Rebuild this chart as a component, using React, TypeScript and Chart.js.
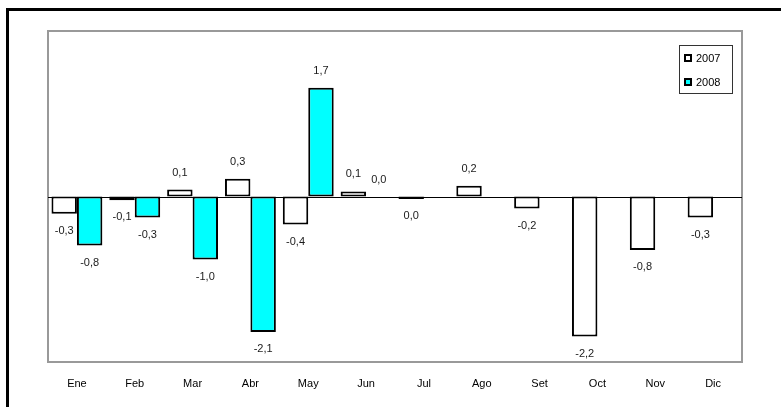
import React, { useEffect, useRef } from "react";
import { Chart, registerables } from "chart.js";

Chart.register(...registerables);

const categories = ["Ene", "Feb", "Mar", "Abr", "May", "Jun", "Jul", "Ago", "Set", "Oct", "Nov", "Dic"];
const values2007 = [-0.27, -0.06, 0.11, 0.28, -0.44, 0.08, -0.04, 0.17, -0.19, -2.2, -0.84, -0.33];
const values2008: (number | null)[] = [-0.77, -0.33, -0.99, -2.13, 1.71, 0.0, null, null, null, null, null, null];
const seriesNames = ["2007", "2008"];
const seriesColors = ["#FFFFFF", "#00FFFF"];
const yMin = -2.6;
const yMax = 2.6;

const FONT = "Arial, 'Liberation Sans', sans-serif";

function fmt(v: number): string {
  const r = Math.abs(v) < 0.05 ? 0 : v;
  return r.toFixed(1).replace(".", ",");
}

const framePlugin = {
  id: "frame",
  beforeDraw(chart: any) {
    const ctx = chart.ctx;
    ctx.save();
    ctx.fillStyle = "#FFFFFF";
    ctx.fillRect(0, 0, chart.width, chart.height);
    ctx.strokeStyle = "#000000";
    ctx.lineWidth = 3;
    ctx.beginPath();
    ctx.moveTo(7.5, chart.height + 10);
    ctx.lineTo(7.5, 9.5);
    ctx.lineTo(chart.width + 10, 9.5);
    ctx.stroke();
    ctx.restore();
  },
  beforeDatasetsDraw(chart: any) {
    const ctx = chart.ctx;
    const a = chart.chartArea;
    ctx.save();
    ctx.strokeStyle = "#999999";
    ctx.lineWidth = 2;
    ctx.strokeRect(a.left, a.top, a.right - a.left, a.bottom - a.top);
    const y0 = Math.round(chart.scales.y.getPixelForValue(0)) + 0.5;
    ctx.strokeStyle = "#000000";
    ctx.lineWidth = 1;
    ctx.beginPath();
    ctx.moveTo(a.left, y0);
    ctx.lineTo(a.right, y0);
    ctx.stroke();
    ctx.restore();
  },
  afterDatasetsDraw(chart: any) {
    const ctx = chart.ctx;
    ctx.save();
    ctx.font = `11px ${FONT}`;
    ctx.fillStyle = "#1a1a1a";
    ctx.textAlign = "center";
    ctx.textBaseline = "middle";
    chart.data.datasets.forEach((ds: any, di: number) => {
      const meta = chart.getDatasetMeta(di);
      meta.data.forEach((bar: any, i: number) => {
        const v = ds.data[i];
        if (v === null || v === undefined) return;
        const props = bar.getProps(["x", "y", "base"], true);
        const top = Math.min(props.y, props.base);
        const bottom = Math.max(props.y, props.base);
        const y = v >= 0 ? top - 17 : bottom + 17;
        ctx.fillText(fmt(v), props.x, y);
      });
    });

    // legend
    const lx = 679.5, ly = 45.5, lw = 53, lh = 48;
    ctx.strokeStyle = "#333333";
    ctx.lineWidth = 1;
    ctx.fillStyle = "#FFFFFF";
    ctx.fillRect(lx, ly, lw, lh);
    ctx.strokeRect(lx, ly, lw, lh);
    ctx.textAlign = "left";
    ctx.font = `11px ${FONT}`;
    chart.data.datasets.forEach((ds: any, di: number) => {
      const cy = 58 + di * 24;
      ctx.fillStyle = ds.backgroundColor;
      ctx.fillRect(684, cy - 4, 8, 8);
      ctx.strokeStyle = "#000000";
      ctx.lineWidth = 2;
      ctx.strokeRect(685, cy - 3, 6, 6);
      ctx.fillStyle = "#000000";
      ctx.fillText(ds.label, 696, cy + 0.5);
    });
    ctx.restore();
  },
};

export default function App() {
  const ref = useRef<HTMLCanvasElement | null>(null);
  useEffect(() => {
    if (!ref.current) return;
    const chart = new Chart(ref.current, {
      type: "bar",
      data: {
        labels: categories,
        datasets: [
          {
            label: seriesNames[0],
            data: values2007,
            backgroundColor: seriesColors[0],
            borderColor: "#000000",
            borderWidth: 2,
            borderSkipped: false,
            inflateAmount: 0,
            categoryPercentage: 0.88,
            barPercentage: 1.0,
          },
          {
            label: seriesNames[1],
            data: values2008,
            backgroundColor: seriesColors[1],
            borderColor: "#000000",
            borderWidth: 2,
            borderSkipped: false,
            inflateAmount: 0,
            categoryPercentage: 0.88,
            barPercentage: 1.0,
          },
        ],
      },
      options: {
        animation: false,
        responsive: false,
        events: [],
        layout: { padding: { left: 48, right: 39, top: 31, bottom: 0 } },
        plugins: { legend: { display: false }, tooltip: { enabled: false } },
        scales: {
          x: {
            grid: { display: false, drawTicks: false },
            border: { display: false },
            ticks: {
              color: "#000000",
              font: { family: FONT, size: 11 },
              padding: 15,
              maxRotation: 0,
              autoSkip: false,
            },
            afterFit(axis: any) {
              axis.height = 45;
            },
          },
          y: {
            display: false,
            min: yMin,
            max: yMax,
          },
        },
      },
      plugins: [framePlugin],
    });
    return () => chart.destroy();
  }, []);
  return (
    <div style={{ position: "fixed", left: 0, top: 0, width: 781, height: 407, background: "#fff" }}>
      <canvas ref={ref} width={781} height={407} style={{ display: "block", width: 781, height: 407 }} />
    </div>
  );
}
